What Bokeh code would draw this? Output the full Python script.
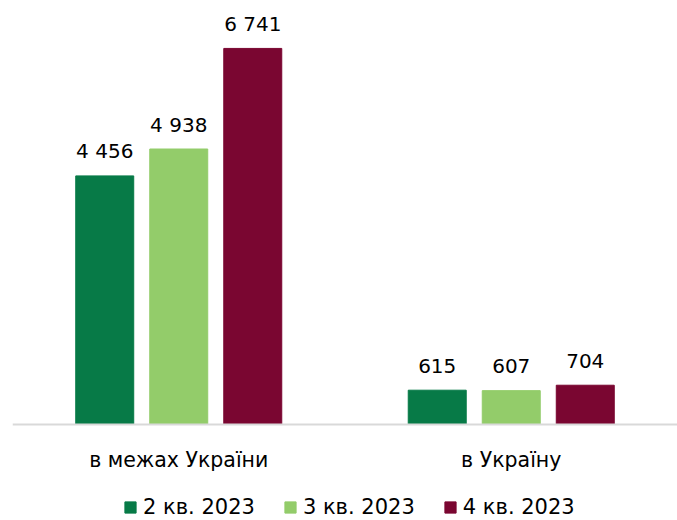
from bokeh.plotting import figure
from bokeh.models import (ColumnDataSource, FactorRange, LabelSet, Legend, LegendItem, Range1d, Span)
from bokeh.transform import dodge
from bokeh.core.properties import value
from bokeh.embed import file_html
from bokeh.resources import INLINE

categories = ["в межах України", "в Україну"]
series = ["2 кв. 2023", "3 кв. 2023", "4 кв. 2023"]
q2 = [4456, 615]
q3 = [4938, 607]
q4 = [6741, 704]
colors = ["#077A47", "#93CC6A", "#7A0631"]

FONT = "DejaVu Sans"
Y_MAX = 7600
PLOT_PX = 424          # pixel height of the value area (above the baseline)
BOTTOM_PX = 96         # pixel space below the baseline for labels + legend
Y_MIN = -Y_MAX * BOTTOM_PX / PLOT_PX

p = figure(width=677, height=520, x_range=FactorRange(*categories, range_padding=0),
           y_range=Range1d(Y_MIN, Y_MAX), output_backend="svg", toolbar_location=None,
           x_axis_location=None, y_axis_location=None,
           min_border_left=12, min_border_right=0, min_border_top=0, min_border_bottom=0)
p.outline_line_color = None
p.xgrid.grid_line_color = None
p.ygrid.grid_line_color = None

def fmt(v):
    return f"{v:,}".replace(",", " ")

offsets = [-0.2226, 0.0, 0.2226]
items = []
for name, vals, col, off in zip(series, [q2, q3, q4], colors, offsets):
    src = ColumnDataSource(dict(cat=categories, val=vals, lab=[fmt(v) for v in vals]))
    r = p.vbar(x=dodge("cat", off, range=p.x_range), top="val", bottom=0, width=0.1744,
               source=src, fill_color=col, line_color=col)
    items.append(LegendItem(label=name, renderers=[r]))
    ls = LabelSet(x=dodge("cat", off, range=p.x_range), y="val", text="lab", source=src,
                  text_align="center", text_baseline="alphabetic", y_offset=17.5,
                  text_font=value(FONT), text_font_size=value("20px"), text_color="#000000")
    p.add_layout(ls)

# baseline (category axis line)
p.add_layout(Span(location=0, dimension="width", line_color="#D9D9D9", line_width=2))

# category labels
cat_src = ColumnDataSource(dict(cat=categories, y=[0] * len(categories)))
p.add_layout(LabelSet(x="cat", y="y", text="cat", source=cat_src, y_offset=-35,
                      text_align="center", text_baseline="middle",
                      text_font=value(FONT), text_font_size=value("20.5px"),
                      text_color="#000000"))

leg = Legend(items=items, orientation="horizontal", location=(111, 1),
             glyph_width=14, glyph_height=14, label_standoff=6, spacing=28,
             padding=0, margin=0, border_line_color=None, background_fill_alpha=0,
             label_text_font=FONT, label_text_font_size="21px", label_text_color="#000000",
             label_height=20)
p.add_layout(leg)

open("out.html", "w").write(file_html(p, INLINE))
